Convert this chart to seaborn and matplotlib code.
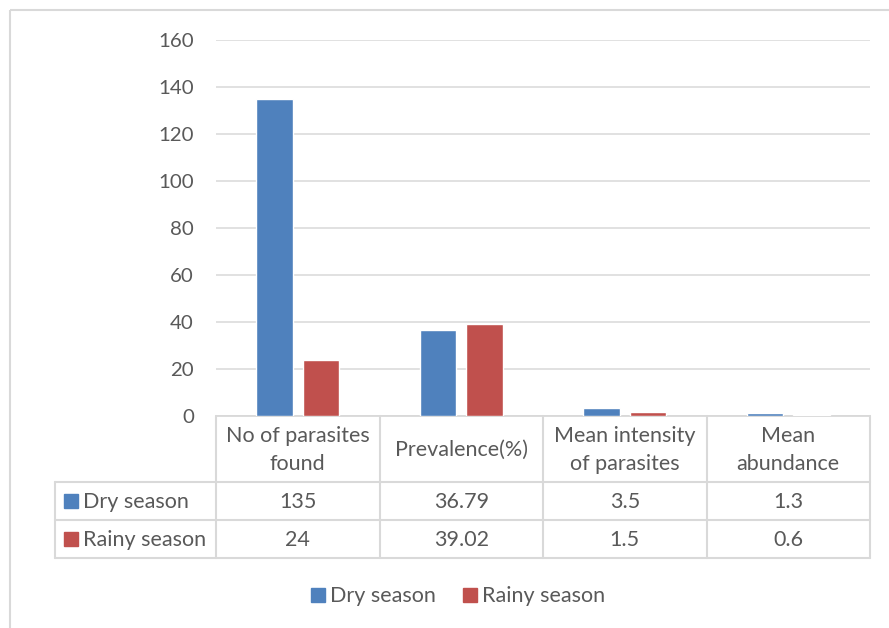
import matplotlib
matplotlib.use("Agg")
import matplotlib.pyplot as plt
from matplotlib.patches import Rectangle
import pandas as pd
import seaborn as sns

# Data
categories = ["No of parasites\nfound", "Prevalence(%)", "Mean intensity\nof parasites", "Mean\nabundance"]
seasons = ["Dry season", "Rainy season"]
dry_values = [135, 36.79, 3.5, 1.3]
rainy_values = [24, 39.02, 1.5, 0.6]
y_ticks = [0, 20, 40, 60, 80, 100, 120, 140, 160]

colors = {"Dry season": "#4f81bd", "Rainy season": "#c0504d"}
text_color = "#595959"
line_color = "#d9d9d9"

df = pd.DataFrame({
    "category": categories * 2,
    "season": [seasons[0]] * len(categories) + [seasons[1]] * len(categories),
    "value": dry_values + rainy_values,
})

sns.set_style("white")
plt.rcParams["font.family"] = ["Lato", "DejaVu Sans"]
FS = 15.5
TICK_FS = 14.7

W, H = 889, 628
fig = plt.figure(figsize=(W / 100, H / 100), dpi=100)

# Pixel-space overlay for border, data table and legend
over = fig.add_axes([0, 0, 1, 1])
over.set_xlim(0, W)
over.set_ylim(H, 0)
over.axis("off")
over.patch.set_alpha(0)

# Plot area
L, R, T, B = 216, 870, 40, 416
ax = fig.add_axes([L / W, 1 - B / H, (R - L) / W, (B - T) / H])
sns.barplot(data=df, x="category", y="value", hue="season", palette=colors,
            width=0.57, gap=0.21, saturation=1, legend=False, ax=ax, zorder=3)
ax.set_xlim(-0.5, len(categories) - 0.5)
ax.set_ylim(0, 160)
ax.set_yticks(y_ticks)
ax.set_yticklabels([str(t) for t in y_ticks], fontsize=TICK_FS, color=text_color)
ax.tick_params(axis="y", length=0, pad=16)
ax.set_xticks([])
ax.set_xlabel("")
ax.set_ylabel("")
ax.grid(axis="y", color=line_color, linewidth=1.1, zorder=0)
for s in ["left", "right", "top"]:
    ax.spines[s].set_visible(False)
ax.spines["bottom"].set_color(line_color)
ax.spines["bottom"].set_linewidth(1.3)
ax.patch.set_alpha(0)

# Chart border
over.add_patch(Rectangle((10, 10), W + 20, H + 20, fill=False,
                         edgecolor=line_color, linewidth=1.5))

# Data table
col_edges = [216, 379.5, 543, 706.5, 870]
row_left = 55
y_head, y_r1, y_r2, y_r3 = 416, 482, 520, 558
lw = 1.5
over.plot([row_left, col_edges[-1]], [y_r1, y_r1], color=line_color, lw=lw)
over.plot([row_left, col_edges[-1]], [y_r2, y_r2], color=line_color, lw=lw)
over.plot([row_left, col_edges[-1]], [y_r3, y_r3], color=line_color, lw=lw)
over.plot([row_left, row_left], [y_r1, y_r3], color=line_color, lw=lw)
for x in col_edges:
    over.plot([x, x], [y_head, y_r3], color=line_color, lw=lw)

for i, cat in enumerate(categories):
    cx = (col_edges[i] + col_edges[i + 1]) / 2
    over.text(cx, (y_head + y_r1) / 2 + 1, cat, ha="center", va="center",
              fontsize=FS, color=text_color, linespacing=1.5)
    over.text(cx, (y_r1 + y_r2) / 2 + 1, f"{dry_values[i]:g}", ha="center",
              va="center", fontsize=FS, color=text_color)
    over.text(cx, (y_r2 + y_r3) / 2 + 1, f"{rainy_values[i]:g}", ha="center",
              va="center", fontsize=FS, color=text_color)

for season, (y0, y1) in zip(seasons, [(y_r1, y_r2), (y_r2, y_r3)]):
    cy = (y0 + y1) / 2
    over.add_patch(Rectangle((64, cy - 7), 14, 14, color=colors[season]))
    over.text(83, cy + 1, season, ha="left", va="center", fontsize=FS,
              color=text_color)

# Legend
for season, x0 in zip(seasons, [311, 463]):
    over.add_patch(Rectangle((x0, 588), 14, 14, color=colors[season]))
    over.text(x0 + 19, 596, season, ha="left", va="center", fontsize=FS,
              color=text_color)

fig.savefig("out.png", dpi=100)
